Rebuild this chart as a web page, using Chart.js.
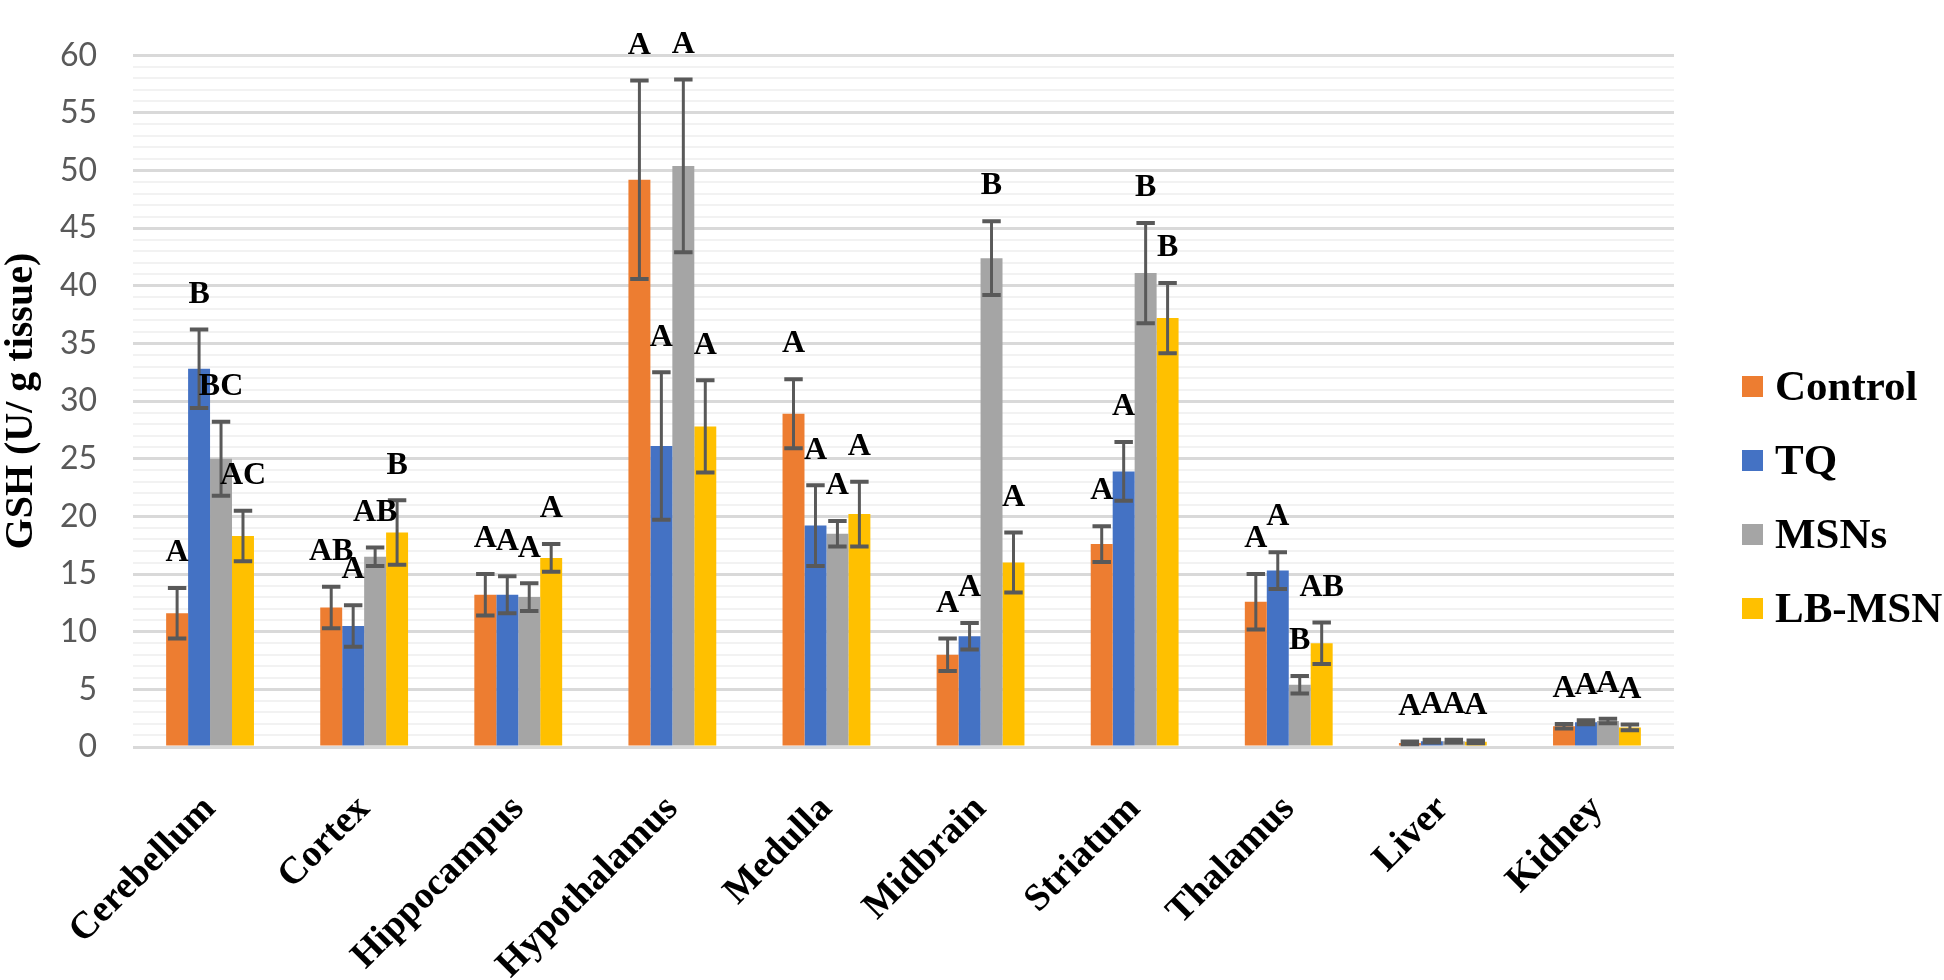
<!DOCTYPE html>
<html>
<head>
<meta charset="utf-8">
<title>GSH levels</title>
<script src="https://cdn.jsdelivr.net/npm/chart.js@4.4.1/dist/chart.umd.min.js"></script>
<style>
  html, body { margin: 0; padding: 0; background: #fff; }
  #wrap { width: 1944px; height: 980px; }
</style>
</head>
<body>
<div id="wrap"><canvas id="chart" width="1944" height="980"></canvas></div>
<script>
// values
const categories = ['Cerebellum', 'Cortex', 'Hippocampus', 'Hypothalamus', 'Medulla',
                    'Midbrain', 'Striatum', 'Thalamus', 'Liver', 'Kidney']

const control    = [11.6, 12.1, 13.2, 49.2, 28.9, 8.0, 17.6, 12.6, 0.35, 1.8]
const controlErr = [2.2, 1.8, 1.8, 8.6, 3.0, 1.4, 1.55, 2.4, 0.12, 0.2]
const tq         = [32.8, 10.5, 13.2, 26.1, 19.2, 9.6, 23.9, 15.3, 0.5, 2.15]
const tqErr      = [3.4, 1.8, 1.6, 6.4, 3.5, 1.15, 2.55, 1.6, 0.12, 0.17]
const msns       = [25.0, 16.5, 13.0, 50.4, 18.5, 42.4, 41.1, 5.4, 0.5, 2.25]
const msnsErr    = [3.2, 0.8, 1.2, 7.5, 1.1, 3.2, 4.35, 0.75, 0.12, 0.2]
const lbmsn      = [18.3, 18.6, 16.4, 27.8, 20.2, 16.0, 37.2, 9.0, 0.45, 1.7]
const lbmsnErr   = [2.2, 2.8, 1.2, 4.0, 2.8, 2.6, 3.05, 1.8, 0.12, 0.25]

const controlLetters = ['A', 'AB', 'A', 'A', 'A', 'A', 'A', 'A', 'A', 'A']
const tqLetters      = ['B', 'A', 'A', 'A', 'A', 'A', 'A', 'A', 'A', 'A']
const msnsLetters    = ['BC', 'AB', 'A', 'A', 'A', 'B', 'B', 'B', 'A', 'A']
const lbmsnLetters   = ['AC', 'B', 'A', 'A', 'A', 'A', 'B', 'AB', 'A', 'A']

const yTicksMax = 60
const yTitle = 'GSH (U/ g tissue)'

const serif = '"Liberation Serif", "Times New Roman", serif'

const errorBars = {
    id: 'errorBars',
    afterDatasetsDraw(chart) {
        const ctx = chart.ctx
        const y = chart.scales.y
        ctx.save()
        ctx.strokeStyle = '#595959'
        chart.data.datasets.forEach((ds, i) => {
            chart.getDatasetMeta(i).data.forEach((bar, j) => {
                const v = ds.data[j]
                const e = ds.errors[j]
                const top = y.getPixelForValue(v + e)
                const bottom = y.getPixelForValue(v - e)
                const half = bar.width * 0.42
                ctx.lineWidth = 3
                ctx.beginPath()
                ctx.moveTo(bar.x, top)
                ctx.lineTo(bar.x, bottom)
                ctx.stroke()
                ctx.lineWidth = 4
                ctx.beginPath()
                ctx.moveTo(bar.x - half, top)
                ctx.lineTo(bar.x + half, top)
                ctx.moveTo(bar.x - half, bottom)
                ctx.lineTo(bar.x + half, bottom)
                ctx.stroke()
            })
        })
        ctx.restore()
    }
}

const letterLabels = {
    id: 'letterLabels',
    afterDatasetsDraw(chart) {
        const ctx = chart.ctx
        const y = chart.scales.y
        ctx.save()
        ctx.fillStyle = '#000'
        ctx.font = 'bold 32px ' + serif
        ctx.textAlign = 'center'
        ctx.textBaseline = 'middle'
        chart.data.datasets.forEach((ds, i) => {
            chart.getDatasetMeta(i).data.forEach((bar, j) => {
                const top = y.getPixelForValue(ds.data[j] + ds.errors[j])
                ctx.fillText(ds.letters[j], bar.x, top - 35)
            })
        })
        ctx.restore()
    }
}

const sideLegend = {
    id: 'sideLegend',
    afterDraw(chart) {
        const ctx = chart.ctx
        const sets = chart.data.datasets
        const gap = 74
        const startY = 498 - gap * (sets.length - 1) / 2
        ctx.save()
        ctx.font = 'bold 43px ' + serif
        ctx.textBaseline = 'middle'
        sets.forEach((ds, i) => {
            const cy = startY + i * gap
            ctx.fillStyle = ds.backgroundColor
            ctx.fillRect(1742, cy - 11, 21, 21)
            ctx.fillStyle = '#000'
            ctx.fillText(ds.label, 1775, cy + 2)
        })
        ctx.restore()
    }
}

const whiteBg = {
    id: 'whiteBg',
    beforeDraw(chart) {
        const ctx = chart.ctx
        ctx.save()
        ctx.fillStyle = '#fff'
        ctx.fillRect(0, 0, chart.width, chart.height)
        ctx.restore()
    }
}

function makeSet(label, data, errors, letters, color) {
    return {
        label: label,
        data: data,
        errors: errors,
        letters: letters,
        backgroundColor: color,
        borderWidth: 0,
        categoryPercentage: 0.57,
        barPercentage: 1.0
    }
}

const chart = new Chart(document.getElementById('chart'), {
    type: 'bar',
    data: {
        labels: categories,
        datasets: [
            makeSet('Control', control, controlErr, controlLetters, '#ED7D31'),
            makeSet('TQ', tq, tqErr, tqLetters, '#4472C4'),
            makeSet('MSNs', msns, msnsErr, msnsLetters, '#A5A5A5'),
            makeSet('LB-MSN', lbmsn, lbmsnErr, lbmsnLetters, '#FFC000')
        ]
    },
    options: {
        responsive: false,
        animation: false,
        devicePixelRatio: 1,
        layout: { padding: { top: 32, right: 270, bottom: 0, left: 0 } },
        plugins: {
            legend: { display: false },
            tooltip: { enabled: false }
        },
        scales: {
            x: {
                grid: { display: false, drawTicks: false },
                border: { display: false },
                ticks: {
                    color: '#000',
                    font: { family: serif, size: 38, weight: 'bold' },
                    minRotation: 45,
                    maxRotation: 45,
                    padding: 40,
                    autoSkip: false
                },
                afterFit(scale) { scale.height = 233 }
            },
            y: {
                min: 0,
                max: yTicksMax,
                grid: {
                    drawTicks: false,
                    color: (c) => c.tick.value % 5 === 0 ? '#d9d9d9' : '#f2f2f2',
                    lineWidth: (c) => c.tick.value % 5 === 0 ? 3 : 2
                },
                border: { display: false },
                ticks: {
                    stepSize: 1,
                    autoSkip: false,
                    padding: 36,
                    color: '#595959',
                    font: { family: 'Lato, "Open Sans", sans-serif', size: 32 },
                    callback: (v) => v % 5 === 0 ? v : ''
                },
                title: {
                    display: true,
                    text: yTitle,
                    color: '#000',
                    padding: 2,
                    font: { family: serif, size: 40, weight: 'bold', lineHeight: 1 }
                },
                afterFit(scale) { scale.width = 133 }
            }
        }
    },
    plugins: [whiteBg, errorBars, letterLabels, sideLegend]
})
</script>
</body>
</html>
